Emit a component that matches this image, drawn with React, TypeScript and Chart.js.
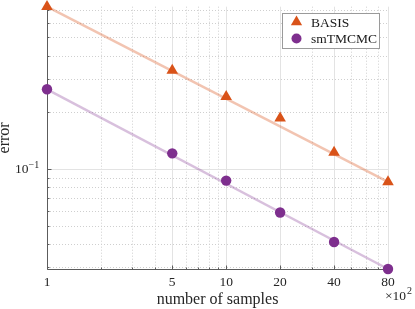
import React, { useEffect, useRef } from "react";
import { Chart, registerables } from "chart.js";
Chart.register(...registerables);

// ---- data ----
const xSamples = [1, 5, 10, 20, 40, 80];
const basisError = [0.728, 0.334, 0.242, 0.186, 0.1223, 0.0853];
const smtmcmcError = [0.265, 0.121, 0.0867, 0.0587, 0.0409, 0.0294];
const fitX = [1, 80];
const basisFit = [0.728, 0.0853];
const smtmcmcFit = [0.265, 0.0294];
const seriesNames = ["BASIS", "smTMCMC"];

// ---- axes ----
const xMin = 1;
const xMax = 80;
const yMin = 0.0294;
const yMax = 0.728;
const xTickValues = [1, 5, 10, 20, 40, 80];
const xMinorGrid = [2, 3, 4, 6, 7, 8, 9, 30, 50, 60, 70];
const yMajorGrid = [0.1];
const yMinorGrid = [0.03, 0.04, 0.05, 0.06, 0.07, 0.08, 0.09, 0.2, 0.3, 0.4, 0.5, 0.6, 0.7];
const xTitle = "number of samples";
const yTitle = "error";
const xMultiplierBase = "×10";
const xMultiplierExp = "2";
const yTickBase = "10";
const yTickExp = "−1";

const ORANGE = "#D95319";
const PURPLE = "#7E2F8E";
const ORANGE_LIGHT = "rgba(217,83,25,0.34)";
const PURPLE_LIGHT = "rgba(126,47,142,0.3)";
const FONT = "'Liberation Serif', 'Times New Roman', serif";

const pts = (xs: number[], ys: number[]) => xs.map((x, i) => ({ x, y: ys[i] }));

const decorPlugin = {
  id: "decor",
  beforeDatasetsDraw(chart: any) {
    const { ctx, chartArea: a, scales } = chart;
    const xs = scales.x;
    const ys = scales.y;
    ctx.save();
    ctx.lineWidth = 1;
    // minor dotted grid
    ctx.strokeStyle = "#cfcfcf";
    ctx.setLineDash([1, 2]);
    ctx.beginPath();
    xMinorGrid.forEach((v) => {
      const p = Math.round(xs.getPixelForValue(v)) + 0.5;
      ctx.moveTo(p, a.top);
      ctx.lineTo(p, a.bottom);
    });
    yMinorGrid.forEach((v) => {
      const p = Math.round(ys.getPixelForValue(v)) + 0.5;
      ctx.moveTo(a.left, p);
      ctx.lineTo(a.right, p);
    });
    ctx.stroke();
    // major solid grid
    ctx.setLineDash([]);
    ctx.strokeStyle = "#e3e3e3";
    ctx.beginPath();
    xTickValues.forEach((v) => {
      const p = Math.round(xs.getPixelForValue(v)) + 0.5;
      ctx.moveTo(p, a.top);
      ctx.lineTo(p, a.bottom);
    });
    yMajorGrid.forEach((v) => {
      const p = Math.round(ys.getPixelForValue(v)) + 0.5;
      ctx.moveTo(a.left, p);
      ctx.lineTo(a.right, p);
    });
    ctx.stroke();
    // axes lines
    ctx.strokeStyle = "#5c5c5c";
    ctx.beginPath();
    const lx = Math.round(a.left) + 0.5;
    const by = Math.round(a.bottom) + 0.5;
    ctx.moveTo(lx, a.top);
    ctx.lineTo(lx, by);
    ctx.lineTo(a.right, by);
    ctx.stroke();
    // inward ticks
    ctx.beginPath();
    yMajorGrid.forEach((v) => {
      const p = Math.round(ys.getPixelForValue(v)) + 0.5;
      ctx.moveTo(lx, p);
      ctx.lineTo(lx + 4, p);
    });
    yMinorGrid.forEach((v) => {
      const p = Math.round(ys.getPixelForValue(v)) + 0.5;
      ctx.moveTo(lx, p);
      ctx.lineTo(lx + 2, p);
    });
    xTickValues.forEach((v) => {
      const p = Math.round(xs.getPixelForValue(v)) + 0.5;
      ctx.moveTo(p, by);
      ctx.lineTo(p, by - 4);
    });
    xMinorGrid.forEach((v) => {
      const p = Math.round(xs.getPixelForValue(v)) + 0.5;
      ctx.moveTo(p, by);
      ctx.lineTo(p, by - 2);
    });
    ctx.stroke();
    ctx.restore();
  },
  afterDatasetsDraw(chart: any) {
    const { ctx, chartArea: a, scales } = chart;
    const ys = scales.y;
    ctx.save();
    ctx.fillStyle = "#262626";
    ctx.textBaseline = "alphabetic";
    // y title
    ctx.save();
    ctx.translate(8.8, (a.top + a.bottom) / 2);
    ctx.rotate(-Math.PI / 2);
    ctx.textAlign = "center";
    ctx.font = `16px ${FONT}`;
    ctx.fillText(yTitle, 0, 0);
    ctx.restore();
    // y tick label 10^-1
    const py = ys.getPixelForValue(0.1);
    ctx.font = `13.5px ${FONT}`;
    ctx.textAlign = "left";
    ctx.fillText(yTickBase, 15, py + 4.5);
    ctx.font = `10px ${FONT}`;
    ctx.fillText(yTickExp, 28.5, py - 1);
    // x multiplier
    ctx.font = `13.5px ${FONT}`;
    ctx.fillText(xMultiplierBase, 385, 300);
    ctx.font = `10px ${FONT}`;
    ctx.fillText(xMultiplierExp, 407, 294);

    // legend
    const lx0 = 282.5, ly0 = 13.5, lw = 97, lh = 35;
    ctx.fillStyle = "#ffffff";
    ctx.fillRect(lx0, ly0, lw, lh);
    ctx.strokeStyle = "#9a9a9a";
    ctx.lineWidth = 1;
    ctx.strokeRect(lx0, ly0, lw, lh);
    // triangle
    const r = 6.5;
    const tx = 296.5, ty = 22;
    ctx.fillStyle = ORANGE;
    ctx.beginPath();
    ctx.moveTo(tx, ty - r);
    ctx.lineTo(tx + r * 0.866, ty + r / 2);
    ctx.lineTo(tx - r * 0.866, ty + r / 2);
    ctx.closePath();
    ctx.fill();
    // circle
    ctx.fillStyle = PURPLE;
    ctx.beginPath();
    ctx.arc(296.5, 38.5, 5, 0, Math.PI * 2);
    ctx.fill();
    ctx.fillStyle = "#1a1a1a";
    ctx.font = `13.5px ${FONT}`;
    ctx.fillText(seriesNames[0], 311, 26.5);
    ctx.fillText(seriesNames[1], 311, 42.5);
    ctx.restore();
  },
};

export default function App() {
  const ref = useRef<HTMLCanvasElement | null>(null);
  useEffect(() => {
    if (!ref.current) return;
    const chart = new Chart(ref.current, {
      type: "line",
      data: {
        datasets: [
          {
            label: seriesNames[0] + " fit",
            data: pts(fitX, basisFit),
            borderColor: ORANGE_LIGHT,
            borderWidth: 2.5,
            pointRadius: 0,
            showLine: true,
            clip: false as any,
          },
          {
            label: seriesNames[1] + " fit",
            data: pts(fitX, smtmcmcFit),
            borderColor: PURPLE_LIGHT,
            borderWidth: 2.5,
            pointRadius: 0,
            showLine: true,
            clip: false as any,
          },
          {
            label: seriesNames[0],
            data: pts(xSamples, basisError),
            showLine: false,
            pointStyle: "triangle",
            pointRadius: 6.7,
            backgroundColor: ORANGE,
            borderColor: ORANGE,
            borderWidth: 0,
            clip: false as any,
          },
          {
            label: seriesNames[1],
            data: pts(xSamples, smtmcmcError),
            showLine: false,
            pointStyle: "circle",
            pointRadius: 5.2,
            backgroundColor: PURPLE,
            borderColor: PURPLE,
            borderWidth: 0,
            clip: false as any,
          },
        ],
      },
      options: {
        responsive: false,
        animation: false,
        events: [],
        layout: { padding: { top: 6, right: 27, left: 0, bottom: 0 } },
        plugins: { legend: { display: false }, tooltip: { enabled: false } },
        scales: {
          x: {
            type: "logarithmic",
            min: xMin,
            max: xMax,
            grid: { display: false, drawTicks: false },
            border: { display: false },
            afterBuildTicks: (s: any) => {
              s.ticks = xTickValues.map((v) => ({ value: v }));
            },
            afterFit: (s: any) => {
              s.height = 40;
            },
            ticks: {
              autoSkip: false,
              maxRotation: 0,
              padding: 5,
              color: "#262626",
              font: { family: FONT, size: 13.5 },
              callback: (v: any) => String(v),
            },
            title: {
              display: true,
              text: xTitle,
              color: "#262626",
              font: { family: FONT, size: 16 },
              padding: { top: 0, bottom: 0 },
            },
          },
          y: {
            type: "logarithmic",
            min: yMin,
            max: yMax,
            grid: { display: false, drawTicks: false },
            border: { display: false },
            ticks: { display: false },
            afterFit: (s: any) => {
              s.width = 47;
            },
            title: { display: false },
          },
        },
      } as any,
      plugins: [decorPlugin],
    });
    return () => chart.destroy();
  }, []);
  return (
    <div style={{ position: "fixed", left: 0, top: 0, width: 415, height: 309, background: "#fff" }}>
      <canvas ref={ref} width={415} height={309} style={{ width: 415, height: 309 }} />
    </div>
  );
}
